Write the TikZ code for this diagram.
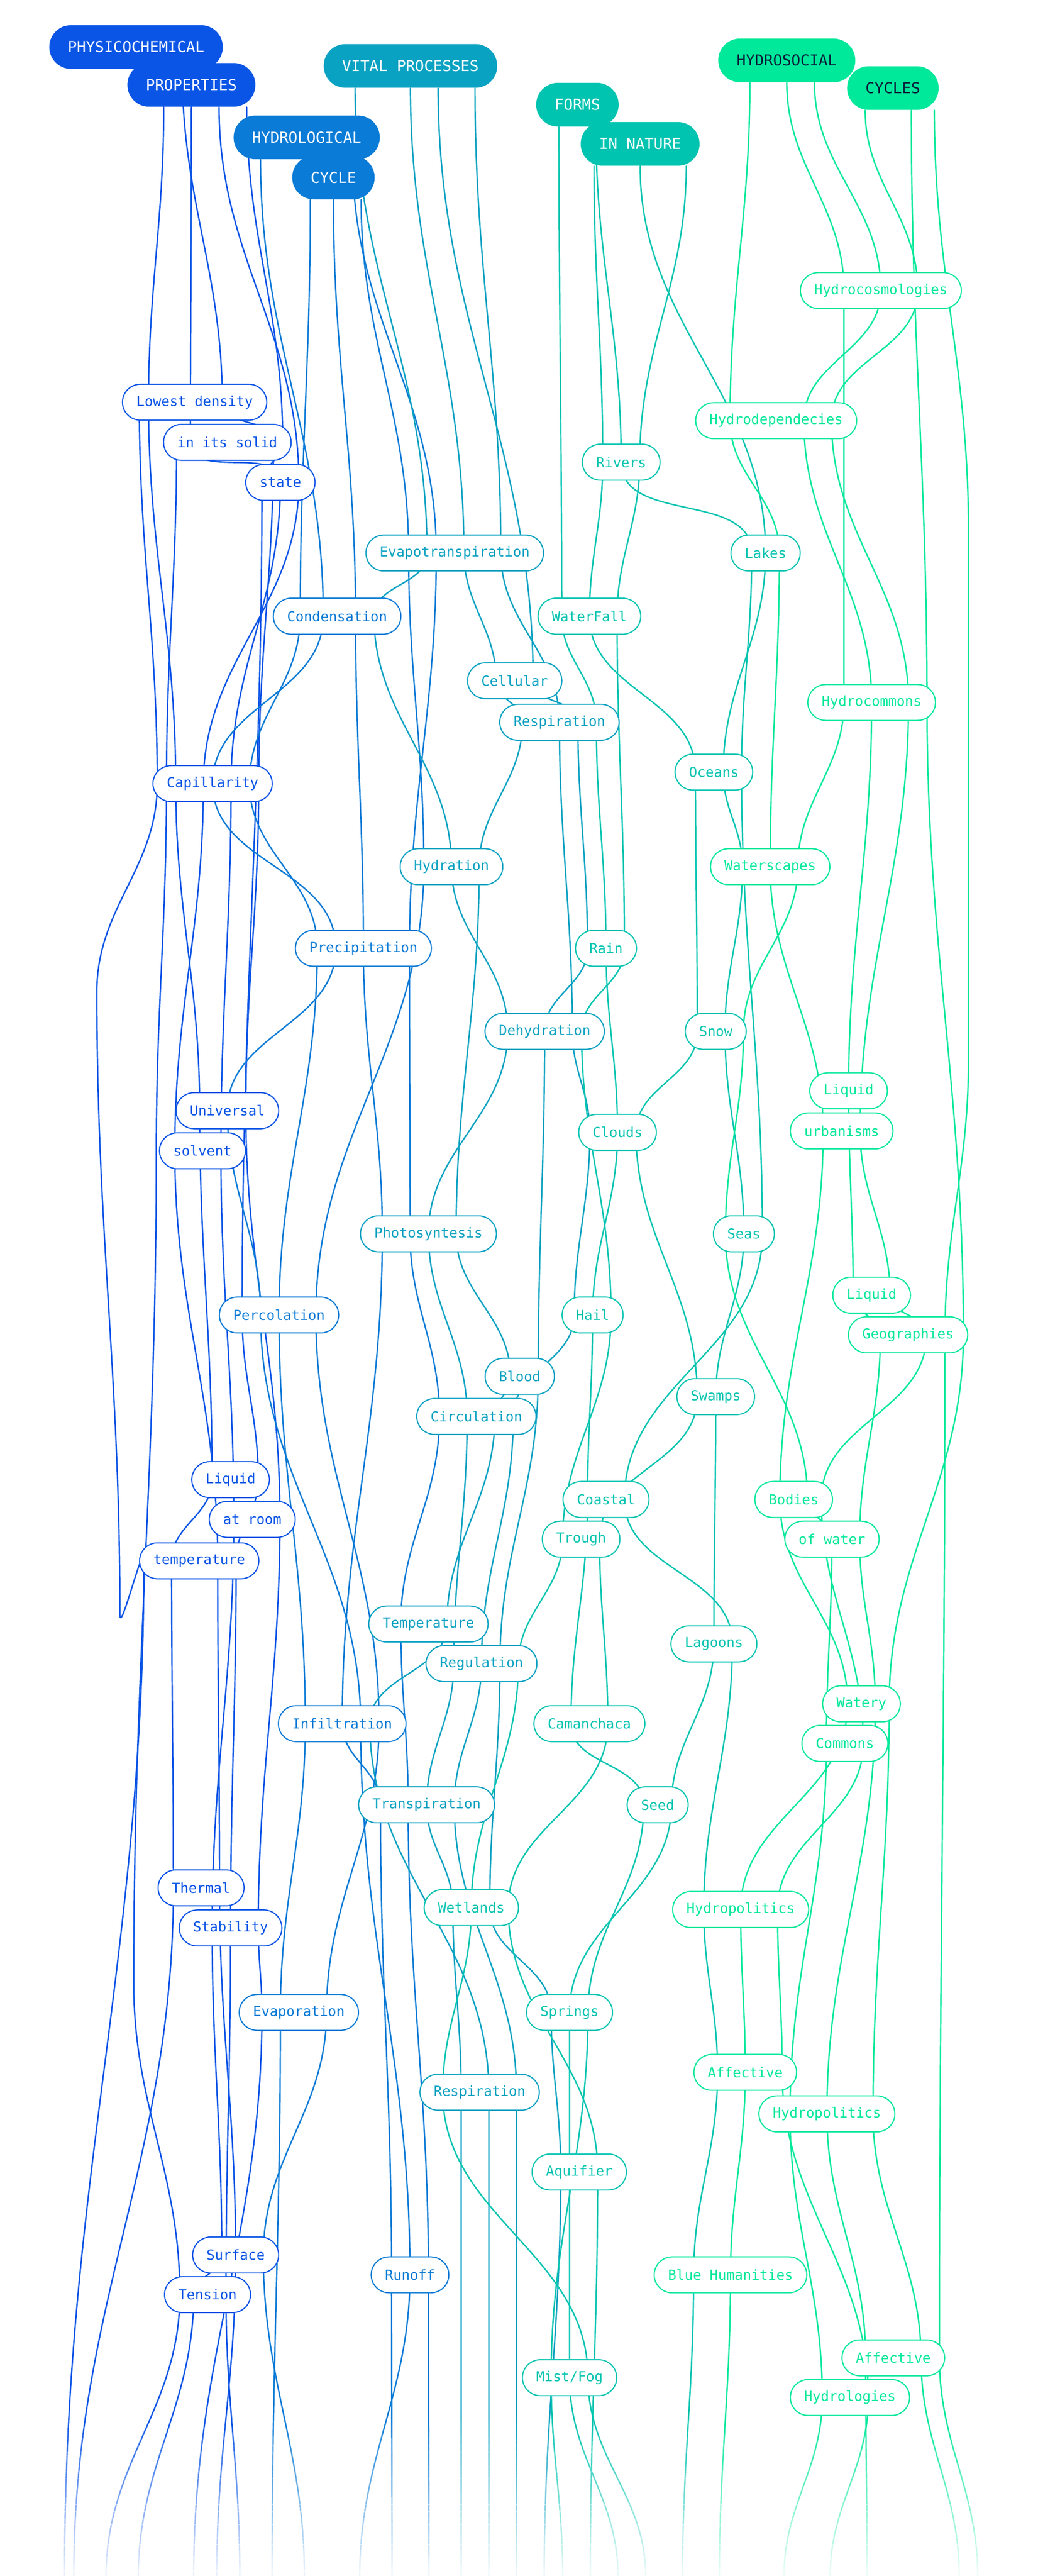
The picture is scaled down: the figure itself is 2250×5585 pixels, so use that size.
\documentclass[tikz,border=0pt]{standalone}
\usepackage{fontspec}
\newfontfamily\mono{DejaVu Sans Mono}
\usetikzlibrary{calc}
\definecolor{cP}{HTML}{0A55E6}
\definecolor{cH}{HTML}{0A7BD6}
\definecolor{cV}{HTML}{0AA2C2}
\definecolor{cF}{HTML}{00C4B0}
\definecolor{cS}{HTML}{00E89A}
\definecolor{navy}{HTML}{0B1F3A}
\pgfdeclarelayer{bg}\pgfsetlayers{bg,main}
\tikzset{
 lab/.style={draw=#1, text=#1, fill=white, rounded corners=9.75pt, minimum height=19.5pt, inner xsep=7.5pt, font=\mono\fontsize{7.5}{7.5}\selectfont, line width=0.62pt},
 head/.style={fill=#1, text=white, rounded corners=11.8pt, minimum height=23.7pt, inner xsep=10pt, font=\mono\fontsize{8.2}{8.2}\selectfont},
 ln/.style={draw=#1, line width=0.75pt, line cap=round},
}
\newcommand\strand[4]{% color, start, list, end
 \draw[ln=#1] #2 \foreach \nn/\dd in {#3} { to[out=-90,in=90] ($(\nn.center)+(\dd,0)$) } to[out=-90,in=90] #4;}
\begin{document}
\begin{tikzpicture}[x=0.25pt,y=-0.25pt]
\useasboundingbox (0,0) rectangle (2250,5585);
% headers
\node[head=cP] (physico) at (295,102) {PHYSICOCHEMICAL};
\node[head=cP] (properties) at (415,184) {PROPERTIES};
\node[head=cV] (vital) at (890,143) {VITAL PROCESSES};
\node[head=cH] (hydro) at (665,298) {HYDROLOGICAL};
\node[head=cH] (cycle) at (723,385) {CYCLE};
\node[head=cF] (forms) at (1252,227) {FORMS};
\node[head=cF] (nature) at (1388,312) {IN NATURE};
\node[head=cS,text=navy] (hsoc) at (1706,131) {HYDROSOCIAL};
\node[head=cS,text=navy] (hcyc) at (1936,191) {CYCLES};
% physico
\node[lab=cP] (lowest) at (422,872) {Lowest density};
\node[lab=cP] (insolid) at (493,959) {in its solid};
\node[lab=cP] (state) at (608,1046) {state};
\node[lab=cP] (capil) at (461,1699) {Capillarity};
\node[lab=cP] (univ) at (493,2408) {Universal};
\node[lab=cP] (solvent) at (439,2495) {solvent};
\node[lab=cP] (liq3) at (500,3208) {Liquid};
\node[lab=cP] (atroom) at (547,3294) {at room};
\node[lab=cP] (temp) at (432,3384) {temperature};
\node[lab=cP] (thermal) at (436,4093) {Thermal};
\node[lab=cP] (stab) at (500,4180) {Stability};
\node[lab=cP] (surface) at (511,4889) {Surface};
\node[lab=cP] (tension) at (450,4975) {Tension};
% hydrological
\node[lab=cH] (cond) at (731,1336) {Condensation};
\node[lab=cH] (precip) at (788,2056) {Precipitation};
\node[lab=cH] (percol) at (605,2851) {Percolation};
\node[lab=cH] (infil) at (742,3737) {Infiltration};
\node[lab=cH] (evap) at (648,4363) {Evaporation};
\node[lab=cH] (runoff) at (889,4932) {Runoff};
% vital
\node[lab=cV] (evapo) at (986,1199) {Evapotranspiration};
\node[lab=cV] (cellular) at (1116,1476) {Cellular};
\node[lab=cV] (resp) at (1213,1566) {Respiration};
\node[lab=cV] (hydration) at (979,1879) {Hydration};
\node[lab=cV] (dehyd) at (1181,2236) {Dehydration};
\node[lab=cV] (photo) at (929,2675) {Photosyntesis};
\node[lab=cV] (blood) at (1127,2984) {Blood};
\node[lab=cV] (circ) at (1033,3071) {Circulation};
\node[lab=cV] (tempr) at (929,3521) {Temperature};
\node[lab=cV] (regul) at (1044,3607) {Regulation};
\node[lab=cV] (transp) at (925,3913) {Transpiration};
\node[lab=cV] (resp2) at (1040,4536) {Respiration};
% forms
\node[lab=cF] (rivers) at (1347,1002) {Rivers};
\node[lab=cF] (waterfall) at (1278,1336) {WaterFall};
\node[lab=cF] (lakes) at (1660,1199) {Lakes};
\node[lab=cF] (oceans) at (1548,1674) {Oceans};
\node[lab=cF] (rain) at (1314,2056) {Rain};
\node[lab=cF] (snow) at (1552,2236) {Snow};
\node[lab=cF] (clouds) at (1339,2455) {Clouds};
\node[lab=cF] (seas) at (1613,2675) {Seas};
\node[lab=cF] (hail) at (1285,2851) {Hail};
\node[lab=cF] (swamps) at (1552,3028) {Swamps};
\node[lab=cF] (coastal) at (1314,3251) {Coastal};
\node[lab=cF] (trough) at (1260,3337) {Trough};
\node[lab=cF] (lagoons) at (1548,3564) {Lagoons};
\node[lab=cF] (caman) at (1278,3737) {Camanchaca};
\node[lab=cF] (seed) at (1426,3913) {Seed};
\node[lab=cF] (wetl) at (1022,4136) {Wetlands};
\node[lab=cF] (springs) at (1235,4363) {Springs};
\node[lab=cF] (aquif) at (1256,4709) {Aquifier};
\node[lab=cF] (mist) at (1235,5155) {Mist/Fog};
% hydrosocial
\node[lab=cS] (hcosmo) at (1910,630) {Hydrocosmologies};
\node[lab=cS] (hdep) at (1683,912) {Hydrodependecies};
\node[lab=cS] (hcommons) at (1890,1523) {Hydrocommons};
\node[lab=cS] (wscapes) at (1670,1879) {Waterscapes};
\node[lab=cS] (liq1) at (1840,2365) {Liquid};
\node[lab=cS] (urban) at (1825,2452) {urbanisms};
\node[lab=cS] (liq2) at (1890,2808) {Liquid};
\node[lab=cS] (geog) at (1969,2894) {Geographies};
\node[lab=cS] (bodies) at (1721,3251) {Bodies};
\node[lab=cS] (ofwater) at (1804,3337) {of water};
\node[lab=cS] (watery) at (1868,3694) {Watery};
\node[lab=cS] (commons) at (1832,3780) {Commons};
\node[lab=cS] (hpol) at (1606,4140) {Hydropolitics};
\node[lab=cS] (aff1) at (1616,4493) {Affective};
\node[lab=cS] (hpol2) at (1793,4583) {Hydropolitics};
\node[lab=cS] (bluehum) at (1584,4932) {Blue Humanities};
\node[lab=cS] (aff2) at (1937,5112) {Affective};
\node[lab=cS] (hlogies) at (1843,5198) {Hydrologies};
% bottom ends and waypoints
\foreach \i/\x in {1/160,2/300,3/420,4/470,5/520,6/590,7/850,8/660,9/780,10/930,11/1000,12/1060,13/1180,14/1120,15/1220,16/1280,17/1340,18/1400,19/1480,20/1560,21/1700,22/1880,23/1800,24/2080,25/140,26/230,27/2120}
 \coordinate (b\i) at (\x,5585);
\coordinate (l1) at (210,2150);
\coordinate (l2) at (260,3500);
\coordinate (l3) at (290,4300);
\coordinate (r1) at (2100,1150);
\coordinate (r2) at (2100,2300);
\begin{pgfonlayer}{bg}
\strand{cP}{($(properties.south)+(-60,0)$)}{lowest/-100,capil/-80,univ/-60,liq3/-40,temp/-60,thermal/-60}{(b1)}
\strand{cP}{($(properties.south)+(0,0)$)}{insolid/-80,state/0,capil/40,solvent/40,atroom/-40,stab/-40,surface/-30,tension/-30}{(b2)}
\strand{cP}{($(physico.south)+(100,0)$)}{lowest/60,insolid/100,capil/100,univ/40,atroom/60,stab/60,evap/-80}{(b3)}
\strand{cP}{($(properties.south)+(60,0)$)}{state/40,capil/-20,solvent/-60,temp/40,thermal/40,surface/0}{(b4)}
\strand{cP}{($(properties.south)+(120,0)$)}{insolid/120,state/-40,percol/-80,liq3/60,temp/80,stab/0,tension/40}{(b5)}
\strand{cP}{($(lowest.center)+(-120,0)$)}{capil/-120,l1/0,l2/0,temp/-120}{(b25)}
\strand{cP}{($(insolid.center)+(-110,0)$)}{capil/-100,solvent/-100,l3/0,tension/-60}{(b26)}
\strand{cH}{($(cycle.south)+(-50,0)$)}{cond/-80,capil/80,precip/-100,percol/0,infil/-80,evap/-40}{(b6)}
\strand{cH}{($(cycle.south)+(0,0)$)}{cond/40,precip/0,photo/-100,infil/0,transp/-100,runoff/-40}{(b7)}
\strand{cH}{($(cycle.south)+(60,0)$)}{evapo/-100,hydration/-60,percol/80,infil/80,evap/60,surface/60}{(b8)}
\strand{cH}{($(hydro.south)+(-100,0)$)}{cond/-30,capil/0,precip/-60,univ/0,percol/-40,infil/40,runoff/0}{(b9)}
\strand{cH}{($(hydro.south)+(100,0)$)}{evapo/-40,precip/100,photo/-40,circ/-80,tempr/-60,transp/-40,runoff/40}{(b10)}
\strand{cV}{($(vital.south)+(-120,0)$)}{evapo/-60,cond/80,hydration/0,dehyd/-80,photo/0,circ/-20,regul/-60,transp/0,wetl/-40,resp2/-40}{(b11)}
\strand{cV}{($(vital.south)+(0,0)$)}{evapo/20,cellular/-40,resp/-80,hydration/60,photo/60,blood/-20,circ/40,tempr/40,infil/60,resp2/20}{(b12)}
\strand{cV}{($(vital.south)+(60,0)$)}{cellular/40,resp/40,rain/-40,dehyd/0,blood/40,regul/40,wetl/40,springs/-40,aquif/-40}{(b13)}
\strand{cV}{($(vital.south)+(140,0)$)}{evapo/100,resp/0,dehyd/60,clouds/-60,hail/-40,circ/80,regul/0,transp/60,resp2/80}{(b14)}
\strand{cF}{($(forms.south)+(-40,0)$)}{waterfall/-60,resp/80,rain/0,clouds/0,hail/0,coastal/-40,caman/-40,seed/-30,springs/40,mist/-40}{(b15)}
\strand{cF}{($(nature.south)+(-100,0)$)}{rivers/-40,waterfall/0,oceans/-40,snow/-40,clouds/40,swamps/-40,trough/40,caman/40,wetl/80,aquif/40}{(b16)}
\strand{cF}{($(nature.south)+(0,0)$)}{lakes/0,oceans/20,wscapes/-60,snow/20,seas/0,swamps/0,lagoons/0,seed/30,springs/0,mist/0}{(b17)}
\strand{cF}{($(nature.south)+(100,0)$)}{rivers/40,waterfall/60,rain/40,dehyd/80,hail/40,trough/-40,regul/80,wetl/0,resp2/-80,mist/40}{(b18)}
\strand{cF}{($(forms.south)+(40,0)$)}{rivers/0,lakes/-30,oceans/60,seas/40,coastal/40,lagoons/40,hpol/-80,aff1/-60,bluehum/-80}{(b19)}
\strand{cS}{($(hsoc.south)+(-80,0)$)}{hdep/-100,lakes/30,wscapes/0,urban/-40,bodies/-30,watery/-30,hpol/0,aff1/0,bluehum/0}{(b20)}
\strand{cS}{($(hsoc.south)+(0,0)$)}{hcosmo/-80,hcommons/-60,wscapes/60,snow/60,seas/-40,bodies/30,ofwater/0,commons/-40,hpol2/-80,hlogies/-60}{(b21)}
\strand{cS}{($(hsoc.south)+(60,0)$)}{hcosmo/0,hdep/60,hcommons/0,liq1/0,liq2/-40,geog/-60,ofwater/60,watery/30,hpol2/0,aff2/-60}{(b22)}
\strand{cS}{($(hcyc.south)+(-60,0)$)}{hcosmo/80,hdep/120,hcommons/80,urban/40,liq2/40,geog/40,bodies/60,commons/40,hpol/80,aff1/80,hlogies/40}{(b23)}
\strand{cS}{($(hcyc.south)+(40,0)$)}{hcommons/120,geog/120,watery/60,hpol2/100,aff2/60}{(b24)}
\strand{cS}{($(hcyc.south)+(90,0)$)}{r1/0,r2/0,geog/80,aff2/100}{(b27)}
\end{pgfonlayer}
% fade at bottom
\foreach \i in {0,...,24}
 \fill[white, opacity=\i/26] (0,{5230+\i*14.3}) rectangle (2250,{5230+\i*14.3+15});
\end{tikzpicture}
\end{document}
